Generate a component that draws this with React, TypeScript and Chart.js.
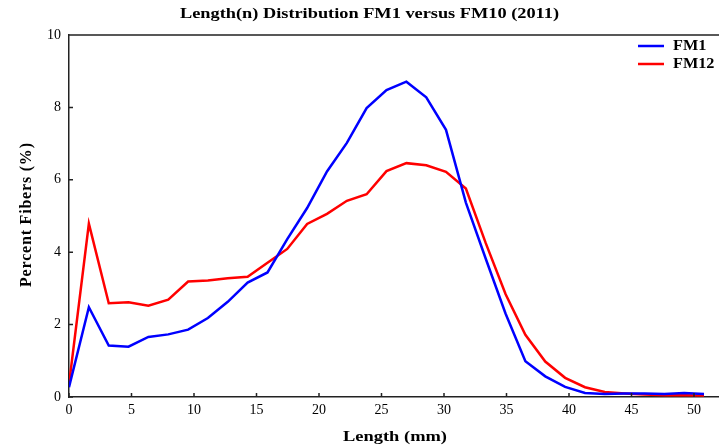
import React, { useEffect, useRef } from 'react';
import { Chart, registerables } from 'chart.js';
Chart.register(...registerables);

const lengths = [0, 1.59, 3.18, 4.76, 6.35, 7.94, 9.53, 11.11, 12.7, 14.29, 15.88, 17.46, 19.05, 20.64, 22.23, 23.81, 25.4, 26.99, 28.58, 30.16, 31.75, 33.34, 34.93, 36.51, 38.1, 39.69, 41.28, 42.86, 44.45, 46.04, 47.63, 49.21, 50.8];
const fm1 = [0.27, 2.48, 1.42, 1.39, 1.66, 1.73, 1.86, 2.18, 2.63, 3.16, 3.44, 4.36, 5.22, 6.23, 7.02, 7.98, 8.48, 8.71, 8.28, 7.38, 5.37, 3.82, 2.3, 0.99, 0.57, 0.28, 0.11, 0.08, 0.1, 0.1, 0.08, 0.11, 0.08];
const fm12 = [0.35, 4.79, 2.59, 2.62, 2.52, 2.69, 3.19, 3.22, 3.28, 3.32, 3.71, 4.09, 4.78, 5.06, 5.42, 5.6, 6.24, 6.46, 6.4, 6.22, 5.76, 4.25, 2.84, 1.72, 0.98, 0.53, 0.27, 0.14, 0.1, 0.07, 0.05, 0.05, 0.04];
const xTicks = [0, 5, 10, 15, 20, 25, 30, 35, 40, 45, 50];
const yTicks = [0, 2, 4, 6, 8, 10];
const seriesNames = ['FM1', 'FM12'];
const seriesColors = ['#0000ff', '#ff0000'];
const titleText = 'Length(n) Distribution FM1 versus FM10 (2011)';
const xTitle = 'Length (mm)';
const yTitle = 'Percent Fibers (%)';

const FAMILY = '"Liberation Serif", "Times New Roman", serif';

// draws text centred at (x, y), stretched horizontally to the given width
function stretchedText(ctx: any, text: string, x: number, y: number, width: number, align: 'center' | 'left' = 'center') {
  const w = ctx.measureText(text).width;
  const sx = width / w;
  ctx.save();
  ctx.translate(x, y);
  ctx.scale(sx, 1);
  ctx.textAlign = align;
  ctx.fillText(text, 0, 0);
  ctx.restore();
}

export default function App() {
  const ref = useRef<HTMLCanvasElement>(null);
  useEffect(() => {
    document.body.style.margin = '0';
    const canvas = ref.current!;
    const extras = {
      id: 'extras',
      afterDatasetsDraw(chart: any) {
        const { ctx, chartArea, scales } = chart;
        ctx.save();
        ctx.strokeStyle = '#222';
        ctx.lineWidth = 1.5;
        ctx.beginPath();
        ctx.moveTo(chartArea.left, chartArea.top);
        ctx.lineTo(chartArea.right, chartArea.top);
        for (const v of yTicks) {
          const y = scales.y.getPixelForValue(v);
          ctx.moveTo(chartArea.left, y);
          ctx.lineTo(chartArea.left + 4, y);
        }
        for (const v of xTicks) {
          const x = scales.x.getPixelForValue(v);
          ctx.moveTo(x, chartArea.bottom);
          ctx.lineTo(x, chartArea.bottom - 4);
        }
        ctx.stroke();
        ctx.fillStyle = '#000';
        ctx.textBaseline = 'middle';
        // title
        ctx.font = `bold 14px ${FAMILY}`;
        stretchedText(ctx, titleText, 369.5, 14, 379);
        // x title
        ctx.font = `bold 15px ${FAMILY}`;
        stretchedText(ctx, xTitle, 395, 437, 104);
        // y title
        ctx.save();
        ctx.translate(27, (chartArea.top + chartArea.bottom) / 2 - 1);
        ctx.rotate(-Math.PI / 2);
        ctx.font = `bold 16px ${FAMILY}`;
        ctx.letterSpacing = '0.8px';
        const w = ctx.measureText(yTitle).width - 0.8;
        ctx.textAlign = 'left';
        ctx.fillText(yTitle, -w / 2, 0);
        ctx.letterSpacing = '0px';
        ctx.restore();
        // legend
        ctx.font = `bold 14px ${FAMILY}`;
        chart.data.datasets.forEach((ds: any, i: number) => {
          const y = 46 + i * 18;
          ctx.strokeStyle = ds.borderColor;
          ctx.lineWidth = 2.5;
          ctx.beginPath();
          ctx.moveTo(638, y);
          ctx.lineTo(664, y);
          ctx.stroke();
          const tw = ctx.measureText(ds.label).width;
          stretchedText(ctx, ds.label, 673, y, tw * 1.16, 'left');
        });
        ctx.restore();
      },
    };
    const chart = new Chart(canvas, {
      type: 'line',
      data: {
        datasets: [fm1, fm12].map((arr, i) => ({
          label: seriesNames[i],
          data: lengths.map((x, j) => ({ x, y: arr[j] })),
          borderColor: seriesColors[i],
          backgroundColor: seriesColors[i],
          borderWidth: 2.5,
          pointRadius: 0,
          tension: 0,
          fill: false,
        })),
      },
      options: {
        responsive: false,
        animation: false,
        layout: { padding: { top: 35, left: 0, right: 0, bottom: 0 } },
        plugins: {
          legend: { display: false },
          tooltip: { enabled: false },
          title: { display: false },
        },
        scales: {
          x: {
            type: 'linear',
            min: 0,
            max: 52,
            afterBuildTicks: (s: any) => { s.ticks = xTicks.map((v) => ({ value: v })); },
            afterFit: (s: any) => { s.height = 51; },
            grid: { drawOnChartArea: false, drawTicks: false },
            border: { color: '#222', width: 1.5 },
            ticks: { padding: 5, color: '#000', font: { family: FAMILY, size: 14 }, maxRotation: 0 },
          },
          y: {
            min: 0,
            max: 10,
            afterBuildTicks: (s: any) => { s.ticks = yTicks.map((v) => ({ value: v })); },
            afterFit: (s: any) => { s.width = 69; },
            grid: { drawOnChartArea: false, drawTicks: false },
            border: { color: '#222', width: 1.5 },
            ticks: { padding: 8, color: '#000', font: { family: FAMILY, size: 14 } },
          },
        },
      },
      plugins: [extras],
    } as any);
    return () => chart.destroy();
  }, []);
  return (
    <div style={{ width: 719, height: 448 }}>
      <canvas ref={ref} width={719} height={448} style={{ display: 'block' }} />
    </div>
  );
}
